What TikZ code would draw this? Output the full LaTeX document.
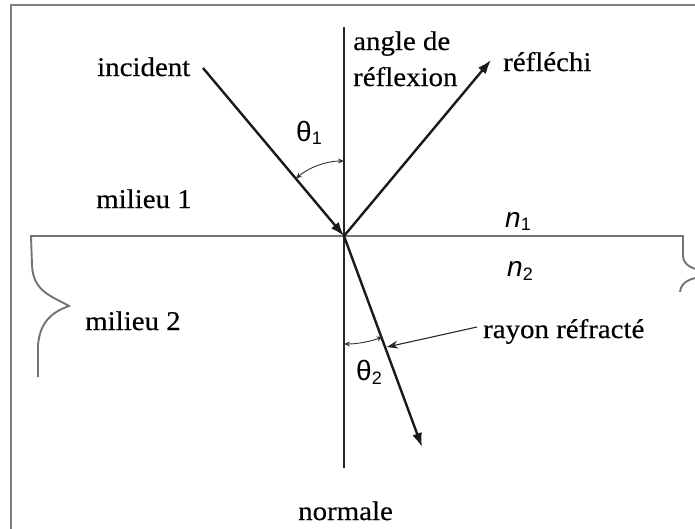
\documentclass[tikz,border=0pt]{standalone}
\usepackage{fontspec}
\setmainfont{Liberation Serif}[FakeStretch=1.07,FakeBold=0.4]
\newfontfamily\sansf{Liberation Sans}
\usetikzlibrary{arrows.meta}
\tikzset{
  ray/.style={line width=2.4pt, draw=black!90, -{Latex[length=14pt,width=10pt]}},
  normalline/.style={line width=1.9pt, draw=black!85},
  iface/.style={line width=1.9pt, draw=black!55},
  angarc/.style={line width=0.9pt, draw=black!80, {Stealth[length=6pt,width=5pt]}-{Stealth[length=6pt,width=5pt]}},
  lbl/.style={anchor=base west, inner sep=0pt, font=\fontsize{27}{32}\selectfont},
  sym/.style={anchor=base west, inner sep=0pt, font=\sansf\fontsize{28}{32}\selectfont},
}
\begin{document}
\begin{tikzpicture}[x=1pt,y=-1pt]
\useasboundingbox (0,0) rectangle (695,528);
\clip (0,0) rectangle (695,528);
% frame
\draw[line width=2pt, draw=black!50] (11,4.7) rectangle (760,600);
% coordinates
\coordinate (O) at (344,236);
\coordinate (Ntop) at (344,27);
\coordinate (Nbot) at (344,468);
\coordinate (Istart) at (203,68);
\coordinate (Rend) at (491,60);
\coordinate (Tend) at (422,447);
\coordinate (IfL) at (31,236);
\coordinate (IfR) at (683,236);
\coordinate (Pstart) at (477,327);
\coordinate (Ptip) at (387,347);
% interface with braces
\draw[iface] (38,377) -- (38,345) .. controls (40,322) and (52,312) .. (69,306)
  .. controls (52,296) and (33,292) .. (32,265) -- (IfL) -- (IfR) -- (683,255)
  .. controls (683,264) and (690,268) .. (700,270);
\draw[iface] (680,292) .. controls (681,283) and (688,279) .. (700,277);
% normal
\draw[normalline] (Ntop) -- (Nbot);
% rays
\draw[ray] (Istart) -- (O);
\draw[ray] (O) -- (Rend);
\draw[ray] (O) -- (Tend);
% angle arcs
\draw[angarc] ([shift={(130:75pt)}]O) arc[start angle=130, end angle=90, radius=75pt];
\draw[angarc] ([shift={(-90:108pt)}]O) arc[start angle=-90, end angle=-69, radius=108pt];
% pointer
\draw[line width=1.1pt, draw=black!85, -{Stealth[length=11pt,width=8pt]}] (Pstart) -- (Ptip);
% labels
\node[lbl] (inc) at (97,76) {incident};
\node[lbl] (ang1) at (353,50) {angle de};
\node[lbl] (ang2) at (353,86) {réflexion};
\node[lbl] (refl) at (503,71) {réfléchi};
\node[lbl] (mil1) at (96,208) {milieu 1};
\node[lbl] (mil2) at (85,330) {milieu 2};
\node[lbl] (ray) at (483,338) {rayon réfracté};
\node[lbl] (norm) at (298,520) {normale};
\node[sym] (th1) at (296,141) {θ\textsubscript{\fontsize{18}{20}\selectfont 1}};
\node[sym] (th2) at (356,380) {θ\textsubscript{\fontsize{18}{20}\selectfont 2}};
\node[sym] (n1) at (505,227) {\itshape n\textsubscript{\upshape\fontsize{18}{20}\selectfont 1}};
\node[sym] (n2) at (507,276) {\itshape n\textsubscript{\upshape\fontsize{18}{20}\selectfont 2}};
\end{tikzpicture}
\end{document}
